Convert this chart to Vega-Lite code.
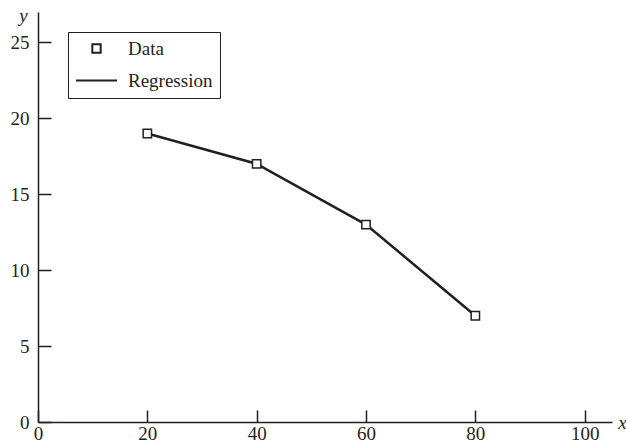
{
  "$schema": "https://vega.github.io/schema/vega-lite/v6.json",
  "width": 574,
  "height": 410,
  "autosize": {"type": "none"},
  "padding": {"left": 38, "top": 12, "right": 14, "bottom": 21},
  "background": "white",
  "config": {
    "view": {"stroke": null},
    "font": "Liberation Serif",
    "axis": {
      "grid": false,
      "domainColor": "#231f20",
      "domainWidth": 1.5,
      "tickColor": "#231f20",
      "tickWidth": 1.5,
      "labelColor": "#231f20",
      "labelFont": "Liberation Serif",
      "labelFontSize": 19,
      "titleFont": "Liberation Serif",
      "titleFontSize": 19,
      "titleFontStyle": "italic",
      "titleFontWeight": "normal",
      "titleColor": "#231f20"
    }
  },
  "data": {
    "values": [
      {"x": 20, "y": 19, "series": "Data"},
      {"x": 40, "y": 17, "series": "Data"},
      {"x": 60, "y": 13, "series": "Data"},
      {"x": 80, "y": 7, "series": "Data"},
      {"x": 20, "y": 19, "series": "Regression"},
      {"x": 40, "y": 17, "series": "Regression"},
      {"x": 60, "y": 13, "series": "Regression"},
      {"x": 80, "y": 7, "series": "Regression"}
    ]
  },
  "encoding": {
    "x": {
      "field": "x",
      "type": "quantitative",
      "scale": {"domain": [0, 105], "nice": false, "zero": false},
      "axis": {
        "values": [0, 20, 40, 60, 80, 100],
        "tickSize": -12,
        "labelPadding": 14,
        "labelFlush": false,
        "title": "x",
        "titleX": 584,
        "titleY": 0,
        "titleAlign": "center",
        "titleBaseline": "middle",
        "titleAngle": 0
      }
    },
    "y": {
      "field": "y",
      "type": "quantitative",
      "scale": {"domain": [0, 27], "nice": false, "zero": false},
      "axis": {
        "values": [0, 5, 10, 15, 20, 25],
        "tickSize": -13,
        "labelPadding": 22,
        "labelFlush": false,
        "title": "y",
        "titleX": -15,
        "titleY": 3,
        "titleAlign": "center",
        "titleBaseline": "middle",
        "titleAngle": 0
      }
    }
  },
  "layer": [
    {
      "transform": [{"filter": "datum.series === 'Regression'"}],
      "mark": {"type": "line", "color": "#231f20", "strokeWidth": 2.5},
      "encoding": {}
    },
    {
      "transform": [{"filter": "datum.series === 'Data'"}],
      "mark": {"type": "point", "filled": true, "fill": "white", "stroke": "#231f20", "strokeWidth": 1.5, "opacity": 1},
      "encoding": {
        "shape": {
          "field": "series",
          "type": "nominal",
          "scale": {"domain": ["Data", "Regression"], "range": ["square", "stroke"]},
          "legend": {
            "title": null,
            "orient": "none",
            "legendX": 30,
            "legendY": 20,
            "strokeColor": "#231f20",
            "fillColor": "white",
            "padding": 7,
            "symbolStrokeColor": "#231f20",
            "symbolFillColor": "white",
            "symbolStrokeWidth": 2,
            "labelFont": "Liberation Serif",
            "labelFontSize": 19,
            "labelColor": "#231f20",
            "labelOffset": 10,
            "rowPadding": 0
          }
        },
        "size": {
          "field": "series",
          "type": "nominal",
          "scale": {"domain": ["Data", "Regression"], "range": [70, 1681]},
          "legend": {
            "title": null,
            "orient": "none",
            "legendX": 30,
            "legendY": 20
          }
        }
      }
    }
  ]
}
